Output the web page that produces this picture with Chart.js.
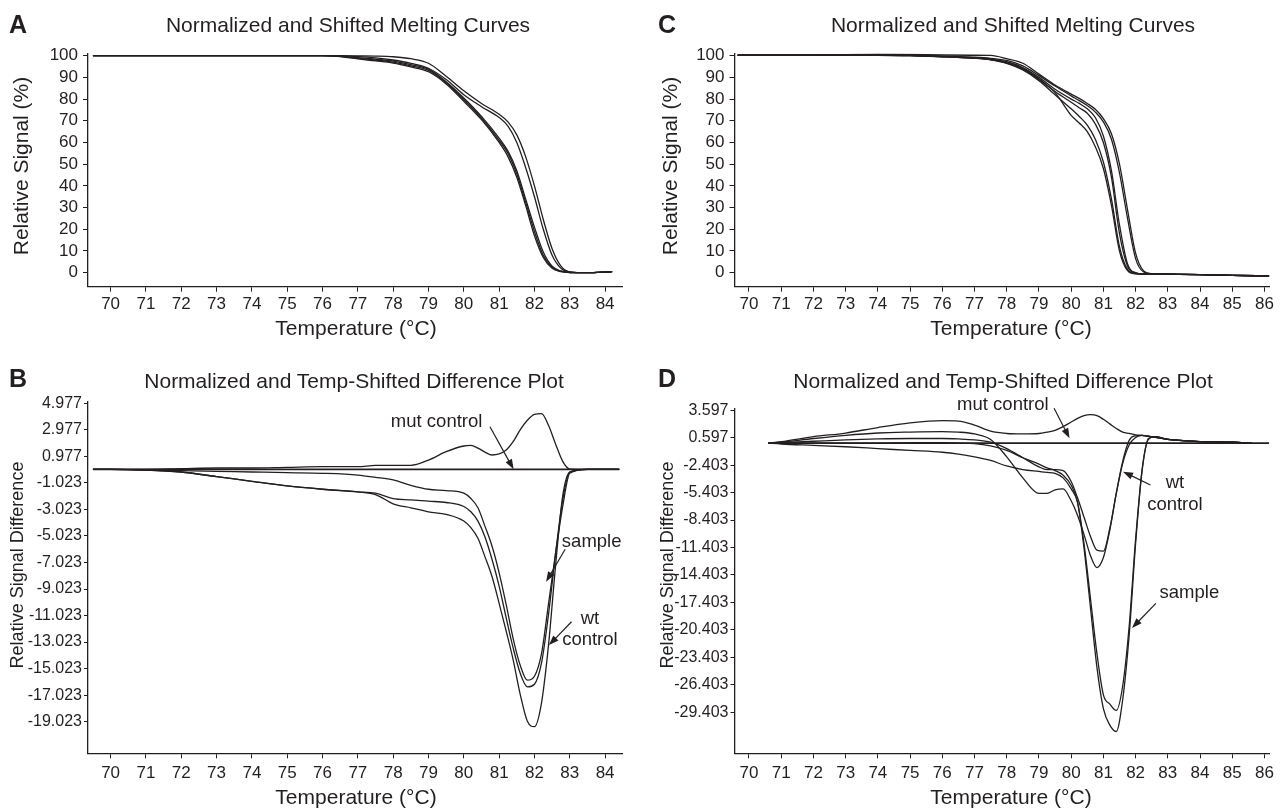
<!DOCTYPE html>
<html>
<head>
<meta charset="utf-8">
<script src="https://cdn.jsdelivr.net/npm/chart.js@4.4.1/dist/chart.umd.min.js"></script>
<style>
  body { margin: 0; background: #fff; width: 1282px; height: 809px; overflow: hidden; position: relative;
         font-family: "Liberation Sans", Arial, sans-serif; color: #231f20; }
  canvas { position: absolute; }
  .t { position: absolute; white-space: nowrap; line-height: 1; transform: translate(-50%, -50%); }
  .letter { font-weight: bold; font-size: 25px; }
  .ptitle { font-size: 21px; }
  .xt { font-size: 21px; }
  .yt { font-size: 21px; transform: translate(-50%, -50%) rotate(-90deg); }
  .yt.small { font-size: 18px; }
</style>
</head>
<body>
<canvas id="chartA" width="640" height="345" style="left:0;top:0"></canvas>
<canvas id="chartB" width="640" height="464" style="left:0;top:345px"></canvas>
<canvas id="chartC" width="642" height="345" style="left:640px;top:0"></canvas>
<canvas id="chartD" width="642" height="464" style="left:640px;top:345px"></canvas>

<div class="t letter" style="left:18px;top:24px">A</div>
<div class="t letter" style="left:18px;top:378px">B</div>
<div class="t letter" style="left:667px;top:24px">C</div>
<div class="t letter" style="left:667px;top:378px">D</div>

<div class="t ptitle" style="left:348px;top:24px">Normalized and Shifted Melting Curves</div>
<div class="t ptitle" style="left:1013px;top:24px">Normalized and Shifted Melting Curves</div>
<div class="t ptitle" style="left:354px;top:380px">Normalized and Temp-Shifted Difference Plot</div>
<div class="t ptitle" style="left:1003px;top:380px">Normalized and Temp-Shifted Difference Plot</div>

<div class="t xt" style="left:356px;top:327px">Temperature (°C)</div>
<div class="t xt" style="left:1011px;top:327px">Temperature (°C)</div>
<div class="t xt" style="left:356px;top:796px">Temperature (°C)</div>
<div class="t xt" style="left:1011px;top:796px">Temperature (°C)</div>

<div class="t yt" style="left:20px;top:166px">Relative Signal (%)</div>
<div class="t yt" style="left:669px;top:166px">Relative Signal (%)</div>
<div class="t yt small" style="left:17px;top:565px">Relative Signal Difference</div>
<div class="t yt small" style="left:667px;top:565px">Relative Signal Difference</div>

<script>
// ---- panel A : melting curves, run 1 ----
const aTemp = [69.5,70,71,72,73,74,75,76,76.5,77,77.5,78,78.5,79,79.5,80,80.5,81,81.25,81.5,81.75,82,82.25,82.5,82.75,83,83.5,84,84.2];
const aMut  = [100,100,100,100,100,100,100,100,100,99.9,99.8,99.5,98.6,96.5,90.5,83.8,78,73,69.5,63.5,53.5,40,24.5,11,3,0.4,0,0.3,0.5];
const aRef  = [100,100,100,100,100,100,100,100,99.9,99.6,99,98,96.5,94.2,89,82,76.5,71.5,67.5,60,48.5,35,20,8,2,0.3,0,0.3,0.5];
const aWt1  = [100,100,100,100,100,100,100,100,99.8,99.1,98.4,97.5,95.9,93.8,88,80.5,72,62,56,47,34,21,9.5,3,0.8,0.1,0,0.3,0.5];
const aWt2  = [100,100,100,100,100,100,100,100,99.7,98.8,98,97,95.3,93.2,87.5,79.8,71.3,61,55,45.5,32.5,19,8,2.5,0.6,0.1,0,0.3,0.5];
const aSmp  = [100,100,100,100,100,100,100,100,99.6,98.5,97.6,96.6,94.8,92.6,87,79,70.5,60,53.5,44,31,17,7,2,0.5,0.1,0,0.3,0.5];

// ---- panel B : difference plot, run 1 ----
const bTemp = [69.5,70,71,72,73,74,75,76,77,77.5,78,78.5,79,79.5,80,80.2,80.4,80.6,80.8,81,81.2,81.4,81.6,81.8,82,82.2,82.4,82.6,82.8,83,83.5,84,84.4];
const bMut  = [0,0,0,0.05,0.1,0.1,0.15,0.2,0.2,0.3,0.3,0.3,0.7,1.33,1.76,1.8,1.6,1.3,1.08,1.16,1.45,2.1,3.0,3.7,4.15,4.2,3.3,1.9,0.6,0.02,0,0,0];
const bWt1  = [0,0,-0.05,-0.1,-0.15,-0.2,-0.25,-0.3,-0.43,-0.6,-0.8,-1.2,-1.5,-1.6,-1.8,-2.2,-2.9,-4.3,-5.8,-7.8,-10.2,-12.8,-14.8,-15.9,-15.6,-13.9,-10.1,-6.3,-2.8,-0.3,0,0,0];
const bWt2  = [0,0,-0.05,-0.2,-0.55,-0.9,-1.25,-1.5,-1.7,-1.8,-2.2,-2.3,-2.4,-2.5,-2.8,-3.2,-3.9,-5.1,-6.8,-8.8,-11.2,-13.5,-15.4,-16.4,-16.2,-14.6,-10.9,-6.3,-2.3,-0.2,0,0,0];
const bSmp  = [0,0,-0.05,-0.2,-0.55,-0.9,-1.25,-1.5,-1.7,-1.9,-2.6,-2.9,-3.2,-3.4,-3.9,-4.4,-5.2,-6.6,-8.1,-10.1,-12.2,-14.4,-17.0,-19.0,-19.4,-17.6,-13.2,-7.2,-2.0,-0.2,0,0,0];
const bBaseTemp = [69.5,84.4];
const bBase     = [0,0];

// ---- panel C : melting curves, run 2 ----
const cTemp = [69.65,70,71,72,73,74,75,76,77,77.5,78,78.5,79,79.5,80,80.25,80.5,80.75,81,81.25,81.5,81.75,82,82.25,82.5,83,84,85,86.15];
const cMut  = [100.2,100.2,100.2,100.3,100.5,100.7,100.6,100.3,100.2,100.1,98.6,96.5,91.5,86.5,82.3,80.3,78,75.3,71,64,50,29,9,0.8,-0.5,-0.7,-0.9,-1.2,-1.5];
const cRef  = [100.2,100.2,100.2,100.2,100.3,100.5,100.3,99.8,99.3,98.8,97.8,95.3,90.8,86,81.5,79.3,77,74,69.5,61.5,46,25,6.5,0.3,-0.5,-0.7,-0.9,-1.2,-1.5];
const cWt1  = [100.2,100.2,100.2,100.2,100.3,100.4,100.2,99.7,99,98.4,97.2,94.5,90,84.5,80,78,75.5,71.5,63,47,22,4,0,-0.6,-0.6,-0.7,-0.9,-1.2,-1.5];
const cWt2  = [100.2,100.2,100.2,100.2,100.2,100.3,100,99.5,98.8,98.2,96.8,94,89.3,83.5,78.5,76,73.5,68.5,60,44,18,3,-0.2,-0.6,-0.6,-0.7,-0.9,-1.2,-1.5];
const cSmp1 = [100.2,100.2,100.2,100.2,100.2,100.2,100,99.5,98.8,98.1,96.5,93.4,88.5,82,75.5,72,68,61.5,51,34,12,1.5,-0.4,-0.6,-0.6,-0.7,-0.9,-1.2,-1.5];
const cSmp2 = [100.2,100.2,100.2,100.2,100.2,100.2,100,99.6,98.9,98.2,96.6,93.8,89,83,72.5,69,65,58,48,31,10,1,-0.5,-0.6,-0.6,-0.7,-0.9,-1.2,-1.5];

// ---- panel D : difference plot, run 2 ----
const dTemp = [70.6,71,72,73,74,75,76,76.5,77,77.5,78,78.5,79,79.25,79.5,79.75,80,80.2,80.4,80.6,80.8,81,81.2,81.4,81.6,81.8,82,82.2,82.4,82.6,83,84,85,85.6];
const dMut  = [0,0.15,0.7,1.1,1.7,2.2,2.45,2.4,1.96,1.3,1.05,1.0,1.05,1.2,1.4,1.8,2.3,2.7,3.0,3.1,3.0,2.6,2.1,1.6,1.2,1.05,0.9,0.85,0.75,0.65,0.4,0.17,0.1,0];
const dWt1  = [0,0.1,0.5,0.85,1.1,1.2,1.25,1.2,1.0,0.4,-1.5,-3.8,-5.5,-5.5,-5.1,-5.0,-6.3,-7.9,-10,-12.3,-13.6,-12.5,-9.5,-5.5,-2,0.3,0.8,0.85,0.75,0.65,0.4,0.17,0.1,0];
const dWt2  = [0,0.05,0.2,0.35,0.45,0.5,0.5,0.45,0.35,0.1,-0.6,-1.6,-2.6,-2.9,-2.9,-3.0,-4.2,-6,-8.1,-10.2,-11.7,-11.8,-9.3,-5.5,-2.2,-0.2,0.6,0.85,0.75,0.65,0.4,0.17,0.1,0];
const dSmp1 = [0,-0.1,-0.25,-0.4,-0.6,-0.8,-1.0,-1.2,-1.5,-1.9,-2.5,-2.9,-3.1,-3.2,-3.3,-3.8,-5,-6.5,-11,-17,-23,-27.5,-28.5,-29.2,-26.5,-20,-10.5,-3,0.5,0.7,0.4,0.17,0.1,0];
const dSmp2 = [0,0,0,0,0,0.05,0.05,0,-0.05,-0.3,-0.8,-1.6,-2.3,-2.7,-3.0,-3.5,-4.6,-6.5,-11.5,-18,-24.5,-29,-30.8,-31.5,-28,-21,-11,-3,0.4,0.7,0.4,0.17,0.1,0];
const dBaseTemp = [70.6,86.15];
const dBase     = [0,0];

// ---- tick labels ----
const ticksTempA = [70,71,72,73,74,75,76,77,78,79,80,81,82,83,84];
const ticksTempC = [70,71,72,73,74,75,76,77,78,79,80,81,82,83,84,85,86];
const ticksPct   = [0,10,20,30,40,50,60,70,80,90,100];
const ticksDiffB = [4.977,2.977,0.977,-1.023,-3.023,-5.023,-7.023,-9.023,-11.023,-13.023,-15.023,-17.023,-19.023];
const ticksDiffD = [3.597,0.597,-2.403,-5.403,-8.403,-11.403,-14.403,-17.403,-20.403,-23.403,-26.403,-29.403];

// ---- annotations (data units) ----
const notesB = [
  { text: [['mut control', 79.23, 3.59]], from: [80.74, 3.21], to: [81.41, 0.0] },
  { text: [['sample', 83.62, -5.46]], from: [82.87, -6.03], to: [82.33, -8.47] },
  { text: [['wt', 83.57, -11.24], ['control', 83.57, -12.87]], from: [83.05, -11.49], to: [82.41, -13.25] }
];
const notesD = [
  { text: [['mut control', 77.88, 4.16]], from: [79.47, 3.8], to: [79.95, 0.52] },
  { text: [['wt', 83.22, -4.39], ['control', 83.22, -6.76]], from: [82.46, -4.57], to: [81.61, -3.12] },
  { text: [['sample', 83.67, -16.33]], from: [82.63, -17.5], to: [81.89, -20.2] }
];

const ink = '#231f20';
const family = '"Liberation Sans", Arial, sans-serif';

function pts(xs, ys) {
  return xs.map((x, i) => ({ x: x, y: ys[i] }));
}

function arrowNotes(items) {
  return {
    id: 'arrowNotes',
    afterDatasetsDraw(chart) {
      if (!items) return;
      const ctx = chart.ctx;
      const sx = chart.scales.x, sy = chart.scales.y;
      ctx.save();
      ctx.fillStyle = ink;
      ctx.strokeStyle = ink;
      ctx.font = '18.5px ' + family;
      ctx.textAlign = 'center';
      ctx.textBaseline = 'middle';
      items.forEach(n => {
        n.text.forEach(t => ctx.fillText(t[0], sx.getPixelForValue(t[1]), sy.getPixelForValue(t[2])));
        const x1 = sx.getPixelForValue(n.from[0]), y1 = sy.getPixelForValue(n.from[1]);
        const x2 = sx.getPixelForValue(n.to[0]), y2 = sy.getPixelForValue(n.to[1]);
        const ang = Math.atan2(y2 - y1, x2 - x1);
        const hl = 10, hw = 3.6;
        ctx.lineWidth = 1.2;
        ctx.beginPath();
        ctx.moveTo(x1, y1);
        ctx.lineTo(x2 - hl * 0.8 * Math.cos(ang), y2 - hl * 0.8 * Math.sin(ang));
        ctx.stroke();
        ctx.beginPath();
        ctx.moveTo(x2, y2);
        ctx.lineTo(x2 - hl * Math.cos(ang) + hw * Math.sin(ang), y2 - hl * Math.sin(ang) - hw * Math.cos(ang));
        ctx.lineTo(x2 - hl * Math.cos(ang) - hw * Math.sin(ang), y2 - hl * Math.sin(ang) + hw * Math.cos(ang));
        ctx.closePath();
        ctx.fill();
      });
      ctx.restore();
    }
  };
}

function panel(id, o) {
  const datasets = o.series.map(s => ({
    data: pts(s[0], s[1]),
    borderColor: ink,
    borderWidth: s[2] || 1.3,
    pointRadius: 0,
    fill: false,
    cubicInterpolationMode: 'monotone'
  }));
  return new Chart(document.getElementById(id), {
    type: 'line',
    data: { datasets: datasets },
    options: {
      responsive: false,
      animation: false,
      events: [],
      layout: { padding: o.pad },
      plugins: { legend: { display: false }, tooltip: { enabled: false } },
      scales: {
        x: {
          type: 'linear', min: o.xMin, max: o.xMax,
          afterBuildTicks: s => { s.ticks = o.xTicks.map(v => ({ value: v })); },
          afterFit: s => { s.height = o.xH; },
          ticks: { font: { family: family, size: 17 }, color: ink, padding: o.xPad, maxRotation: 0, autoSkip: false,
                   callback: v => String(v) },
          grid: { drawOnChartArea: false, tickLength: 5, color: ink, lineWidth: 1 },
          border: { color: ink, width: 1.3 }
        },
        y: {
          type: 'linear', min: o.yMin, max: o.yMax,
          afterBuildTicks: s => { s.ticks = o.yTicks.map(v => ({ value: v })); },
          afterFit: s => { s.width = o.yW; },
          ticks: { font: { family: family, size: o.yFont }, color: ink, padding: o.yPad, autoSkip: false,
                   callback: o.yFmt },
          grid: { drawOnChartArea: false, tickLength: o.yTick, color: ink, lineWidth: 1 },
          border: { color: ink, width: 1.3 }
        }
      }
    },
    plugins: [arrowNotes(o.notes)]
  });
}

panel('chartA', {
  series: [[aTemp, aMut], [aTemp, aRef], [aTemp, aWt1], [aTemp, aWt2], [aTemp, aSmp]],
  xMin: 69.36, xMax: 84.49, xTicks: ticksTempA, xH: 58.3, xPad: 2,
  yMin: -6.45, yMax: 101, yTicks: ticksPct, yW: 88, yFont: 17, yPad: 5, yTick: 5,
  yFmt: v => String(v),
  pad: { top: 53.5, right: 17.6, left: 0, bottom: 0 }
});

panel('chartB', {
  series: [[bBaseTemp, bBase, 1.6], [bTemp, bMut], [bTemp, bWt1], [bTemp, bWt2], [bTemp, bSmp]],
  xMin: 69.36, xMax: 84.49, xTicks: ticksTempA, xH: 55.7, xPad: 4.5,
  yMin: -21.41, yMax: 5.1, yTicks: ticksDiffB, yW: 88, yFont: 16, yPad: 2, yTick: 4,
  yFmt: v => v.toFixed(3),
  pad: { top: 56.7, right: 17.6, left: 0, bottom: 0 },
  notes: notesB
});

panel('chartC', {
  series: [[cTemp, cMut], [cTemp, cRef], [cTemp, cWt1], [cTemp, cWt2], [cTemp, cSmp1], [cTemp, cSmp2]],
  xMin: 69.55, xMax: 86.15, xTicks: ticksTempC, xH: 58.3, xPad: 2,
  yMin: -6.45, yMax: 101, yTicks: ticksPct, yW: 94.5, yFont: 17, yPad: 5, yTick: 5,
  yFmt: v => String(v),
  pad: { top: 53.5, right: 12.7, left: 0, bottom: 0 }
});

panel('chartD', {
  series: [[dBaseTemp, dBase, 1.6], [dTemp, dMut], [dTemp, dWt1], [dTemp, dWt2], [dTemp, dSmp1], [dTemp, dSmp2]],
  xMin: 69.55, xMax: 86.15, xTicks: ticksTempC, xH: 55.7, xPad: 4.5,
  yMin: -33.88, yMax: 3.8, yTicks: ticksDiffD, yW: 94.5, yFont: 16, yPad: 2, yTick: 4,
  yFmt: v => v.toFixed(3),
  pad: { top: 63.3, right: 12.7, left: 0, bottom: 0 },
  notes: notesD
});
</script>
</body>
</html>
